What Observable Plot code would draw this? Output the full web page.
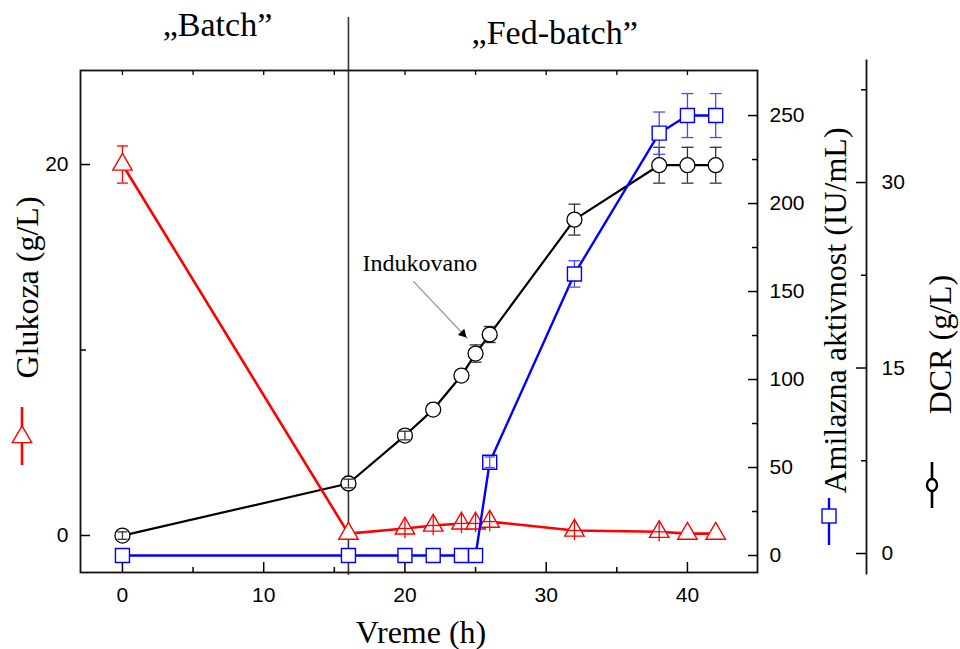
<!DOCTYPE html>
<html><head><meta charset="utf-8">
<script src="https://cdn.jsdelivr.net/npm/d3@7"></script>
<script src="https://cdn.jsdelivr.net/npm/@observablehq/plot@0.6"></script>
<style>html,body{margin:0;padding:0;background:#fff}</style>
</head><body><div id="chart"></div>
<script>
// ---- data ----
const time = [0, 16, 20, 22, 24, 25, 26, 32, 38, 40, 42];
const glucose = [20, 0.1, 0.38, 0.54, 0.65, 0.65, 0.75, 0.27, 0.2, 0.1, 0.1];
const glucoseErr = [1.0, 0, 0.55, 0.55, 0.55, 0.5, 0.55, 0.55, 0.55, 0, 0];
const amylase = [0, 0, 0, 0, 0, 0, 53, 160, 240, 250, 250];
const amylaseErr = [0, 0, 0, 0, 0, 0, 3, 7.5, 12, 12.5, 12.5];
const dcr = [1.45, 5.66, 9.54, 11.64, 14.39, 16.17, 17.71, 27.0, 31.4, 31.4, 31.4];
const dcrErr = [0.3, 0.35, 0.35, 0, 0, 0.7, 0.65, 1.25, 1.45, 1.45, 1.45];

const xTicks = [0, 10, 20, 30, 40];
const xMinor = [5, 15, 25, 35];
const xTop = [0, 5, 10, 15, 20, 25, 30, 35, 40];
const gluTicks = [0, 20];
const gluMinor = [10];
const ampTicks = [0, 50, 100, 150, 200, 250];
const ampMinor = [25, 75, 125, 175, 225];
const dcrTicks = [0, 15, 30];
const dcrMinor = [7.5, 22.5, 37.5];

const phaseBoundary = 16;
const phaseLabels = ["„Batch”", "„Fed-batch”"];
const phaseX = [6.73, 30.6];
const phaseY = [27.5, 27.1];
const annotation = [{label: "Indukovano", tx: 17, ty: 14.66, x1: 20.6, y1: 13.7, x2: 24.42, y2: 10.62}];

const xDomain = [-2.97, 44.96];
const gluDomain = [-1.995, 25.07];
const ampDomain = [-9.66, 275.6];
const dcrDomain = [-1.536, 39.06];

// ---- layout ----
const W = 960, H = 649, mL = 80, mR = 203, mT = 70, mB = 77;
const plotH = H - mT - mB;
const serif = "Liberation Serif, Times New Roman, serif";
const sans = "Liberation Sans, Arial, sans-serif";
const RED = "#ff0000", BLUE = "#0000ff", BLACK = "#000000";

const ampToG = d3.scaleLinear(ampDomain, gluDomain);
const dcrToG = d3.scaleLinear(dcrDomain, gluDomain);
const ident = d => d;

const rows = time.map((t, i) => ({t, g: glucose[i], a: ampToG(amylase[i]), d: dcrToG(dcr[i])}));

function errorBars(vals, errs, conv, domain, threshold) {
  const ppu = plotH / (domain[1] - domain[0]);
  const all = time.map((t, i) => ({t, lo: conv(vals[i] - errs[i]), hi: conv(vals[i] + errs[i]), mid: conv(vals[i]), px: errs[i] * ppu}))
    .filter(d => d.px > 0);
  return {under: all.filter(d => d.px > threshold), over: all.filter(d => d.px <= threshold)};
}
const capSym = {draw(ctx, size) { const w = Math.sqrt(size / Math.PI); ctx.moveTo(-w, 0); ctx.lineTo(w, 0); }};
function barMarks(data, color, capR, capKeys) {
  if (!data.length) return [];
  const m = [Plot.ruleX(data, {x: "t", y1: "lo", y2: "hi", stroke: color, strokeWidth: 1.3})];
  for (const k of capKeys) m.push(Plot.dot(data, {x: "t", y: k, symbol: capSym, r: capR, stroke: color, strokeWidth: 1.3, fill: "none"}));
  return m;
}

const gE = errorBars(glucose, glucoseErr, ident, gluDomain, 12);
const aE = errorBars(amylase, amylaseErr, ampToG, ampDomain, 7);
const dE = errorBars(dcr, dcrErr, dcrToG, dcrDomain, 7.5);

const noText = () => "";
const fmtInt = v => String(Math.round(v) || 0);
const tickFont = {fontSize: 21, fontFamily: sans};

const plot = Plot.plot({
  width: W, height: H,
  marginLeft: mL, marginRight: mR, marginTop: mT, marginBottom: mB,
  style: {fontFamily: sans, fontSize: "21px", color: "black", background: "white", overflow: "visible"},
  x: {domain: xDomain, label: null},
  y: {domain: gluDomain, label: null},
  marks: [
    // phase divider
    Plot.ruleX([phaseBoundary], {stroke: "#333", strokeWidth: 1.6, insetTop: -53, insetBottom: -3}),
    // DCR (black circles)
    Plot.line(rows, {x: "t", y: "d", stroke: BLACK, strokeWidth: 2.2}),
    ...barMarks(dE.under, "#333", 6, ["lo", "hi"]),
    Plot.dot(rows, {x: "t", y: "d", r: 7.5, stroke: BLACK, fill: "white", strokeWidth: 1.3}),
    ...barMarks(dE.over, "#333", 5, ["lo", "hi"]),
    // Glucose (red triangles)
    Plot.line(rows, {x: "t", y: "g", stroke: RED, strokeWidth: 2.6}),
    ...barMarks(gE.under, RED, 5.5, ["lo", "hi"]),
    Plot.dot(rows, {x: "t", y: "g", symbol: "triangle", r: 7.2, stroke: RED, fill: "white", strokeWidth: 1.4}),
    ...barMarks(gE.over, RED, 6, ["mid"]),
    // Amylase (blue squares)
    Plot.line(rows, {x: "t", y: "a", stroke: BLUE, strokeWidth: 2.4}),
    ...barMarks(aE.under, "#4a4aff", 6, ["lo", "hi"]),
    Plot.dot(rows, {x: "t", y: "a", symbol: "square", r: 7.9, stroke: BLUE, fill: "white", strokeWidth: 1.4}),
    ...barMarks(aE.over, "#4a4aff", 5, ["lo", "hi"]),
    // annotation
    Plot.link(annotation, {x1: "x1", y1: "y1", x2: "x2", y2: "y2", stroke: "#999", strokeWidth: 1.3}),
    Plot.dot(annotation, {x: "x2", y: "y2", symbol: "triangle2", r: 4.3, fill: "black", rotate: 136, dx: -4.5, dy: -4.8}),
    Plot.text(annotation, {x: "tx", y: "ty", text: "label", textAnchor: "start", lineAnchor: "middle", fontSize: 24, fontFamily: serif}),
    // phase labels
    Plot.text(phaseLabels, {x: (d, i) => phaseX[i], y: (d, i) => phaseY[i], text: d => d, textAnchor: "middle", lineAnchor: "middle", fontSize: 34, fontFamily: serif}),
    // frame
    Plot.frame({stroke: "#111", strokeWidth: 1.8}),
    // x axes
    Plot.axisX(xTicks, {anchor: "bottom", tickSize: -10, tickFormat: noText, strokeWidth: 1.5, label: null}),
    Plot.axisX(xMinor, {anchor: "bottom", tickSize: -5, tickFormat: noText, strokeWidth: 1.5, label: null}),
    Plot.axisX(xTicks, {anchor: "bottom", tickSize: 0, tickPadding: 15, ...tickFont, label: null}),
    Plot.axisX(xTop, {anchor: "top", tickSize: -4, tickFormat: noText, strokeWidth: 1.3, label: null}),
    // left glucose axis
    Plot.axisY(gluTicks, {anchor: "left", tickSize: -10, tickFormat: noText, strokeWidth: 1.5, label: null}),
    Plot.axisY(gluMinor, {anchor: "left", tickSize: -6, tickFormat: noText, strokeWidth: 1.5, label: null}),
    Plot.axisY(gluTicks, {anchor: "left", tickSize: 0, tickPadding: 12, ...tickFont, label: null}),
    // right amylase axis
    Plot.axisY(ampTicks.map(ampToG), {anchor: "right", tickSize: -10, tickFormat: noText, strokeWidth: 1.5, label: null}),
    Plot.axisY(ampMinor.map(ampToG), {anchor: "right", tickSize: -6, tickFormat: noText, strokeWidth: 1.5, label: null}),
    Plot.axisY(ampTicks.map(ampToG), {anchor: "right", tickSize: 0, tickPadding: 12, tickFormat: d => fmtInt(ampToG.invert(d)), ...tickFont, label: null}),
    // offset DCR axis
    Plot.frame({anchor: "right", dx: 109, insetTop: -10, insetBottom: -1, stroke: "#111", strokeWidth: 1.8}),
    Plot.axisY(dcrTicks.map(dcrToG), {anchor: "right", dx: 109, tickSize: -11, tickFormat: noText, strokeWidth: 1.5, label: null}),
    Plot.axisY(dcrMinor.map(dcrToG), {anchor: "right", dx: 109, tickSize: -6, tickFormat: noText, strokeWidth: 1.5, label: null}),
    Plot.axisY(dcrTicks.map(dcrToG), {anchor: "right", dx: 109, tickSize: 0, tickPadding: 15, tickFormat: d => fmtInt(dcrToG.invert(d)), ...tickFont, label: null}),
    // axis titles
    Plot.text(["Vreme (h)"], {frameAnchor: "bottom", text: d => d, dx: 2, dy: 60, textAnchor: "middle", lineAnchor: "middle", fontSize: 32, fontFamily: serif}),
    Plot.text(["Glukoza (g/L)"], {frameAnchor: "left", text: d => d, rotate: -90, dx: -53, dy: -34, textAnchor: "middle", lineAnchor: "middle", fontSize: 32, fontFamily: serif}),
    Plot.text(["Amilazna aktivnost (IU/mL)"], {frameAnchor: "right", text: d => d, rotate: -90, dx: 78, dy: -11, textAnchor: "middle", lineAnchor: "middle", fontSize: 32, fontFamily: serif}),
    Plot.text(["DCR (g/L)"], {frameAnchor: "right", text: d => d, rotate: -90, dx: 183, dy: 23, textAnchor: "middle", lineAnchor: "middle", fontSize: 32, fontFamily: serif})
  ]
});
document.getElementById("chart").appendChild(plot);

// legend keys beside the axis titles
const svg = d3.select(plot);
const keys = svg.append("g");
// red: line + triangle
keys.append("line").attr("x1", 22).attr("x2", 22).attr("y1", 407).attr("y2", 465).attr("stroke", RED).attr("stroke-width", 2.6);
keys.append("path").attr("d", d3.symbol(d3.symbolTriangle, Math.PI * 7.2 * 7.2)()).attr("transform", "translate(22,437)")
  .attr("fill", "white").attr("stroke", RED).attr("stroke-width", 1.4);
// blue: line + square
keys.append("line").attr("x1", 829).attr("x2", 829).attr("y1", 498).attr("y2", 545).attr("stroke", BLUE).attr("stroke-width", 2.4);
keys.append("rect").attr("x", 822).attr("y", 509).attr("width", 14).attr("height", 14)
  .attr("fill", "white").attr("stroke", BLUE).attr("stroke-width", 1.4);
// black: line + small circle
keys.append("line").attr("x1", 932).attr("x2", 932).attr("y1", 462).attr("y2", 508).attr("stroke", BLACK).attr("stroke-width", 2.6);
keys.append("ellipse").attr("cx", 932).attr("cy", 485).attr("rx", 5).attr("ry", 6)
  .attr("fill", "white").attr("stroke", BLACK).attr("stroke-width", 2.4);
</script>
</body></html>
